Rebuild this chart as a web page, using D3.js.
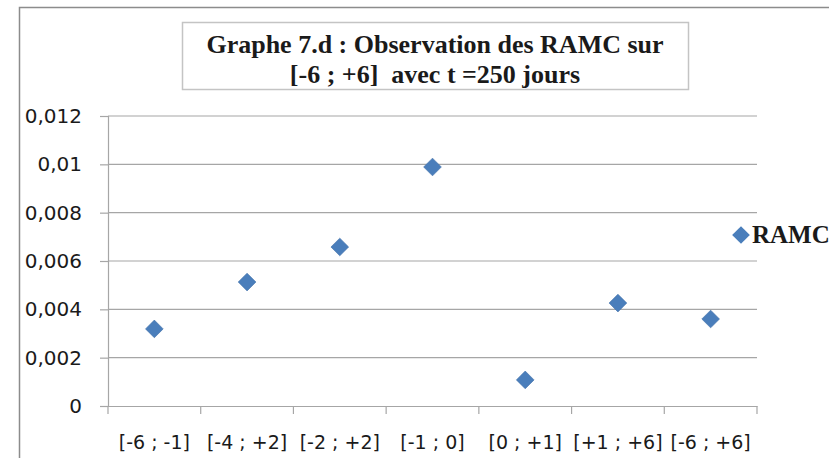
<!DOCTYPE html>
<head>
    <meta charset="utf-8">
    <title>Graphe 7.d</title>
    <script src="https://cdn.jsdelivr.net/npm/d3@7"></script>
</head>
<style>
    body { margin: 0; background: white; }
    .tick text { font-family: "DejaVu Sans", sans-serif; fill: #1a1a1a; }
</style>
<body>
<svg id="chart" width="829" height="458"></svg>
</body>
<script>
    // data
    var categories = ["[-6 ; -1]", "[-4 ; +2]", "[-2 ; +2]", "[-1 ; 0]", "[0 ; +1]", "[+1 ; +6]", "[-6 ; +6]"]
    var ramc = [0.00319, 0.00513, 0.00658, 0.00989, 0.00108, 0.00426, 0.0036]
    var yTicks = [0, 0.002, 0.004, 0.006, 0.008, 0.01, 0.012]
    var yTickLabels = ["0", "0,002", "0,004", "0,006", "0,008", "0,01", "0,012"]
    var seriesName = "RAMC"

    var svg = d3.select("#chart")
    var gridColour = "#a6a6a6"
    var markColour = "#4a7ebb"

    // outer frame of the chart area
    svg.append("rect")
        .attr("x", 19.5).attr("y", 7.5)
        .attr("width", 900).attr("height", 500)
        .attr("fill", "white")
        .attr("stroke", "#8c8c8c")
        .attr("stroke-width", 1.5)

    var plot = {left: 108, right: 757, top: 116, bottom: 406}

    var x = d3.scaleBand().domain(categories).range([plot.left, plot.right])
    var y = d3.scaleLinear().domain([0, 0.012]).range([plot.bottom, plot.top])

    // gridlines
    svg.append("g")
        .selectAll("line")
        .data(yTicks.slice(1))
        .enter()
        .append("line")
        .attr("x1", plot.left).attr("x2", plot.right)
        .attr("y1", d => y(d)).attr("y2", d => y(d))
        .attr("stroke", gridColour)
        .attr("stroke-width", 1.2)

    // y axis
    var yAxis = d3.axisLeft(y)
        .tickValues(yTicks)
        .tickFormat((d, i) => yTickLabels[i])
        .tickSize(8)
        .tickPadding(18)
    var gy = svg.append("g")
        .attr("transform", "translate(" + plot.left + ",0)")
        .call(yAxis)
    gy.select(".domain").attr("stroke", gridColour).attr("stroke-width", 1.2)
    gy.selectAll(".tick line").attr("stroke", gridColour).attr("stroke-width", 1.2)
    gy.selectAll(".tick text").style("font-size", "20px")

    // x axis, ticks on the band edges
    var xAxis = d3.axisBottom(x).tickSize(0).tickPadding(30)
    var gx = svg.append("g")
        .attr("transform", "translate(0," + plot.bottom + ")")
        .call(xAxis)
    gx.select(".domain").attr("stroke", gridColour).attr("stroke-width", 1.2)
    gx.selectAll(".tick text").style("font-size", "19px")
    var edges = categories.map(c => x(c)).concat([plot.right])
    gx.selectAll(".edge")
        .data(edges)
        .enter()
        .append("line")
        .attr("x1", d => d).attr("x2", d => d)
        .attr("y1", 0).attr("y2", 8)
        .attr("stroke", gridColour)
        .attr("stroke-width", 1.2)

    // points
    var diamond = d3.symbol().type(d3.symbolDiamond2).size(200)
    svg.append("g")
        .selectAll("path")
        .data(ramc)
        .enter()
        .append("path")
        .attr("d", diamond)
        .attr("transform", (d, i) => "translate(" + (x(categories[i]) + x.bandwidth() / 2) + "," + y(d) + ")")
        .attr("fill", markColour)
        .attr("stroke", "#3f6fa8")
        .attr("stroke-width", 0.6)

    // legend
    svg.append("path")
        .attr("d", diamond)
        .attr("transform", "translate(741,235)")
        .attr("fill", markColour)
    svg.append("text")
        .attr("x", 752).attr("y", 243)
        .style("font", "bold 25px 'Liberation Serif', serif")
        .attr("fill", "#1a1a1a")
        .text(seriesName)

    // title box
    svg.append("rect")
        .attr("x", 182.5).attr("y", 22.5)
        .attr("width", 506).attr("height", 67)
        .attr("fill", "white")
        .attr("stroke", "#c4c4c4")
        .attr("stroke-width", 1.5)
    var titleLines = ["Graphe 7.d : Observation des RAMC sur", "[-6 ; +6]\u00a0\u00a0avec t =250 jours"]
    svg.append("g")
        .selectAll("text")
        .data(titleLines)
        .enter()
        .append("text")
        .attr("x", 435)
        .attr("y", (d, i) => 53 + i * 30)
        .attr("text-anchor", "middle")
        .style("font", "bold 26px 'Liberation Serif', serif")
        .attr("fill", "#1a1a1a")
        .text(d => d)
</script>
</html>
